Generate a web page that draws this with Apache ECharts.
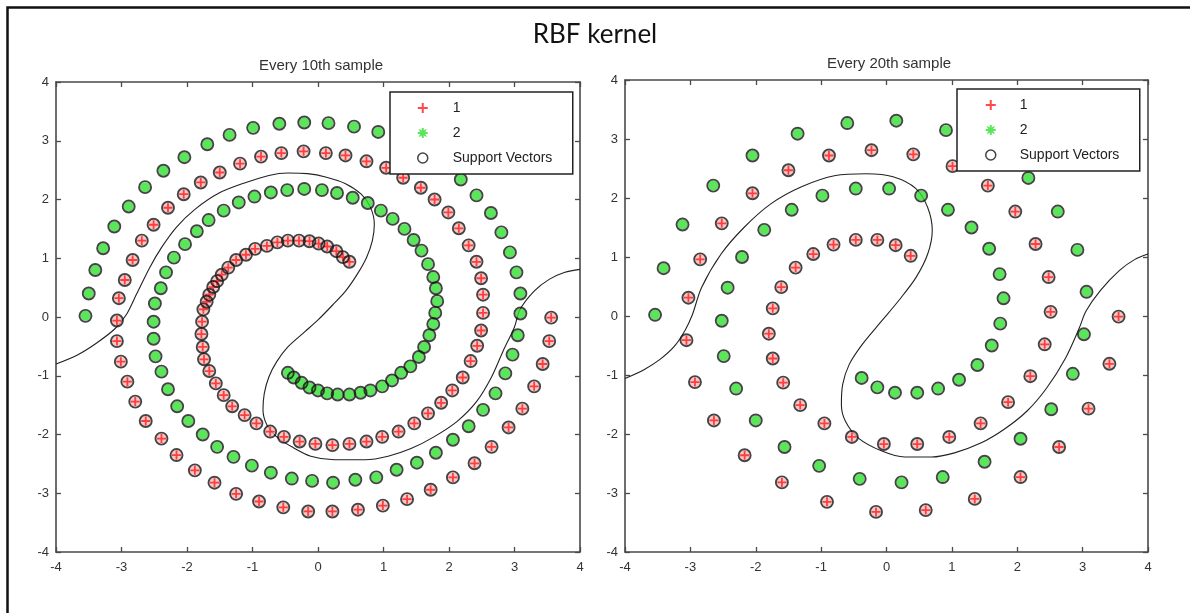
<!DOCTYPE html>
<html>
<head>
<meta charset="utf-8">
<script src="https://cdn.jsdelivr.net/npm/echarts@6/dist/echarts.min.js"></script>
<style>
html,body{margin:0;padding:0;background:#fff;}
#chart{width:1190px;height:613px;}
</style>
</head>
<body>
<div id="chart"></div>
<script>
// ---- axis ----
const axisMin = -4, axisMax = 4, tickStep = 1;
const titleText = 'RBF kernel';
const subTitles = ['Every 10th sample', 'Every 20th sample'];
const legendNames = ['1', '2', 'Support Vectors'];

// ---- left panel: every 10th sample ----
const redL = [
[0.48,0.94],[0.38,1.02],[0.28,1.12],[0.14,1.20],[0.01,1.25],[-0.13,1.29],[-0.29,1.30],[-0.46,1.30],[-0.62,1.27],[-0.78,1.21],[-0.96,1.16],[-1.10,1.06],[-1.25,0.97],[-1.37,0.84],[-1.47,0.72],[-1.54,0.61],[-1.60,0.51],[-1.66,0.38],[-1.70,0.26],[-1.75,0.13],
[-1.77,-0.08],[-1.78,-0.29],[-1.76,-0.51],[-1.74,-0.72],[-1.66,-0.92],[-1.56,-1.13],[-1.44,-1.33],[-1.31,-1.52],[-1.12,-1.67],[-0.94,-1.81],[-0.73,-1.95],[-0.52,-2.04],[-0.28,-2.12],[-0.04,-2.16],[0.22,-2.18],[0.48,-2.16],[0.74,-2.12],[0.98,-2.04],[1.23,-1.95],[1.47,-1.81],[1.68,-1.64],[1.88,-1.46],[2.05,-1.25],[2.21,-1.03],[2.33,-0.75],[2.43,-0.49],[2.49,-0.23],[2.52,0.07],
[2.52,0.38],[2.49,0.66],[2.42,0.94],[2.30,1.22],[2.15,1.51],[1.99,1.78],[1.78,2.00],[1.57,2.20],[1.30,2.37],[1.04,2.54],[0.74,2.65],[0.42,2.75],[0.12,2.79],[-0.22,2.82],[-0.56,2.79],[-0.87,2.73],[-1.19,2.61],[-1.50,2.46],[-1.79,2.29],[-2.05,2.09],[-2.29,1.86],[-2.51,1.57],[-2.69,1.30],[-2.83,0.97],[-2.95,0.63],[-3.04,0.32],
[-3.07,-0.06],[-3.07,-0.41],[-3.01,-0.76],[-2.91,-1.10],[-2.79,-1.44],[-2.63,-1.77],[-2.39,-2.07],[-2.16,-2.35],[-1.88,-2.61],[-1.58,-2.82],[-1.25,-3.01],[-0.90,-3.14],[-0.53,-3.24],[-0.15,-3.31],[0.22,-3.31],[0.61,-3.28],[0.99,-3.21],[1.36,-3.10],[1.72,-2.94],[2.06,-2.73],[2.39,-2.49],[2.65,-2.21],[2.91,-1.88],[3.12,-1.56],[3.30,-1.18],[3.43,-0.80],[3.53,-0.41],[3.56,-0.01]
];
const greenL = [
[-0.46,-0.95],[-0.37,-1.03],[-0.25,-1.12],[-0.13,-1.20],[0.00,-1.25],[0.14,-1.30],[0.30,-1.32],[0.48,-1.32],[0.65,-1.29],[0.80,-1.25],[0.98,-1.18],[1.13,-1.08],[1.27,-0.95],[1.41,-0.84],[1.54,-0.68],[1.62,-0.51],[1.70,-0.31],[1.76,-0.12],[1.79,0.07],
[1.82,0.27],[1.80,0.49],[1.76,0.68],[1.68,0.90],[1.58,1.13],[1.46,1.31],[1.32,1.50],[1.14,1.67],[0.96,1.81],[0.76,1.94],[0.53,2.03],[0.29,2.11],[0.06,2.16],[-0.21,2.18],[-0.47,2.16],[-0.72,2.12],[-0.97,2.05],[-1.21,1.95],[-1.44,1.81],[-1.67,1.65],[-1.85,1.46],[-2.03,1.24],[-2.20,1.01],[-2.32,0.76],[-2.40,0.49],[-2.49,0.23],
[-2.51,-0.08],[-2.51,-0.37],[-2.48,-0.67],[-2.39,-0.93],[-2.29,-1.23],[-2.15,-1.52],[-1.98,-1.77],[-1.76,-2.00],[-1.54,-2.21],[-1.29,-2.38],[-1.01,-2.53],[-0.72,-2.65],[-0.40,-2.75],[-0.09,-2.79],[0.23,-2.82],[0.57,-2.77],[0.89,-2.73],[1.20,-2.60],[1.51,-2.48],[1.80,-2.31],[2.06,-2.09],[2.30,-1.86],[2.52,-1.58],[2.71,-1.30],[2.86,-0.96],[2.97,-0.64],[3.05,-0.31],[3.09,0.06],
[3.09,0.40],[3.03,0.76],[2.93,1.10],[2.80,1.44],[2.64,1.77],[2.42,2.07],[2.18,2.34],[1.90,2.60],[1.60,2.83],[1.27,3.02],[0.92,3.15],[0.55,3.24],[0.16,3.30],[-0.21,3.31],[-0.59,3.29],[-0.99,3.22],[-1.35,3.10],[-1.69,2.94],[-2.04,2.72],[-2.36,2.49],[-2.64,2.21],[-2.89,1.88],[-3.11,1.54],[-3.28,1.17],[-3.40,0.80],[-3.50,0.40],[-3.55,0.02]
];
const boundaryL = [
[-4.0,-0.80],[-3.68,-0.65],[-3.39,-0.45],[-3.10,-0.20],[-2.92,0.05],[-2.77,0.39],[-2.57,0.84],[-2.39,1.18],[-2.16,1.53],[-1.87,1.84],[-1.51,2.11],[-1.10,2.29],[-0.75,2.41],[-0.46,2.45],[-0.16,2.44],[0.13,2.38],[0.42,2.27],[0.66,2.09],[0.80,1.87],[0.86,1.58],[0.83,1.30],[0.74,1.01],[0.60,0.73],[0.42,0.44],[0.22,0.20],[0.00,-0.05],[-0.20,-0.25],[-0.46,-0.51],[-0.63,-0.76],[-0.75,-1.02],[-0.82,-1.30],[-0.84,-1.58],[-0.78,-1.84],[-0.63,-2.04],[-0.40,-2.21],[-0.11,-2.37],[0.25,-2.43],[0.72,-2.43],[1.07,-2.37],[1.42,-2.24],[1.77,-2.04],[2.12,-1.78],[2.42,-1.44],[2.65,-1.02],[2.83,-0.57],[3.00,-0.17],[3.08,0.12],[3.30,0.44],[3.53,0.64],[3.77,0.76],[4.0,0.81]
];

// ---- right panel: every 20th sample ----
const redR = [
[0.37,1.02],[0.14,1.20],[-0.14,1.29],[-0.47,1.29],[-0.81,1.21],[-1.12,1.05],[-1.39,0.82],[-1.61,0.49],[-1.74,0.13],
[-1.80,-0.30],[-1.74,-0.72],[-1.58,-1.13],[-1.32,-1.51],[-0.95,-1.82],[-0.53,-2.05],[-0.04,-2.17],[0.47,-2.17],[0.96,-2.05],[1.44,-1.82],[1.86,-1.46],[2.20,-1.02],[2.42,-0.48],[2.51,0.07],
[2.48,0.66],[2.28,1.22],[1.97,1.77],[1.55,2.21],[1.01,2.54],[0.41,2.74],[-0.23,2.81],[-0.88,2.72],[-1.50,2.47],[-2.05,2.08],[-2.52,1.57],[-2.85,0.96],[-3.03,0.31],
[-3.06,-0.41],[-2.93,-1.12],[-2.64,-1.77],[-2.17,-2.36],[-1.60,-2.82],[-0.91,-3.15],[-0.16,-3.32],[0.60,-3.29],[1.35,-3.10],[2.05,-2.73],[2.64,-2.22],[3.09,-1.57],[3.41,-0.81],[3.55,-0.01]
];
const greenR = [
[-0.38,-1.05],[-0.14,-1.21],[0.13,-1.30],[0.47,-1.30],[0.79,-1.23],[1.11,-1.08],[1.39,-0.83],[1.61,-0.50],[1.74,-0.13],
[1.79,0.30],[1.73,0.71],[1.57,1.14],[1.30,1.50],[0.94,1.80],[0.53,2.04],[0.04,2.16],[-0.47,2.16],[-0.98,2.04],[-1.45,1.80],[-1.87,1.46],[-2.21,1.00],[-2.43,0.48],
[-2.52,-0.08],[-2.49,-0.68],[-2.30,-1.23],[-2.00,-1.77],[-1.56,-2.22],[-1.03,-2.54],[-0.41,-2.76],[0.23,-2.82],[0.86,-2.73],[1.50,-2.47],[2.05,-2.08],[2.52,-1.58],[2.85,-0.98],[3.02,-0.31],
[3.06,0.41],[2.92,1.12],[2.62,1.77],[2.17,2.34],[1.60,2.85],[0.91,3.15],[0.15,3.31],[-0.60,3.27],[-1.36,3.09],[-2.05,2.72],[-2.65,2.21],[-3.12,1.55],[-3.41,0.81],[-3.54,0.02]
];
const boundaryR = [
[-4.0,-1.06],[-3.71,-0.91],[-3.47,-0.74],[-3.25,-0.52],[-3.08,-0.24],[-2.97,0.02],[-2.83,0.48],[-2.53,1.05],[-2.18,1.50],[-1.77,1.90],[-1.30,2.19],[-0.78,2.38],[-0.31,2.41],[0.10,2.36],[0.45,2.16],[0.63,1.84],[0.70,1.45],[0.63,1.05],[0.45,0.65],[0.20,0.28],[-0.07,-0.08],[-0.37,-0.48],[-0.57,-0.82],[-0.67,-1.16],[-0.69,-1.50],[-0.63,-1.78],[-0.43,-2.07],[-0.07,-2.29],[0.28,-2.39],[0.69,-2.39],[1.04,-2.32],[1.45,-2.15],[1.80,-1.92],[2.15,-1.61],[2.45,-1.22],[2.74,-0.71],[2.95,-0.20],[3.05,0.08],[3.27,0.43],[3.56,0.77],[3.80,0.96],[4.0,1.05]
];

// ---- styles ----
const RED = '#ff1a1a', PINK = '#f6b9b9', GREEN = '#2fe02f', DARK = '#151515';
const plusPath = 'path://M4,0H6V4H10V6H6V10H4V6H0V4H4Z';
const starPath = 'path://M4,0H6V2.6L8.5,1L9,1.5L7.4,4H10V6H7.4L9,8.5L8.5,9L6,7.4V10H4V7.4L1.5,9L1,8.5L2.6,6H0V4H2.6L1,1.5L1.5,1L4,2.6Z';
const FONT = 'Liberation Sans';

function axisCommon(gridIndex, position, showLabel) {
  return {
    gridIndex: gridIndex, type: 'value', position: position,
    min: axisMin, max: axisMax, interval: tickStep,
    axisLine: {show: true, onZero: false, lineStyle: {color: '#4a4a4a', width: 1.6}},
    axisTick: {show: true, inside: true, length: 5, lineStyle: {color: '#4a4a4a', width: 1.3}},
    axisLabel: {show: showLabel, fontFamily: FONT, fontSize: 13, color: '#333', margin: (position === 'bottom' ? 9 : 7)},
    splitLine: {show: false}
  };
}

function panelSeries(idx, red, green, boundary) {
  const ax = {xAxisIndex: idx * 2, yAxisIndex: idx * 2};
  return [
    Object.assign({name: 'boundary', type: 'line', data: boundary,
     showSymbol: false, smooth: 0.3, lineStyle: {color: '#222', width: 1.1}, silent: true, z: 2}, ax),
    Object.assign({name: 'fill1', type: 'scatter', data: red, silent: true,
     symbol: 'circle', symbolSize: 10, itemStyle: {color: PINK}, z: 3}, ax),
    Object.assign({name: legendNames[0], type: 'scatter', data: red,
     symbol: plusPath, symbolSize: 9, itemStyle: {color: RED}, z: 3}, ax),
    Object.assign({name: legendNames[1], type: 'scatter', data: green,
     symbol: 'circle', symbolSize: 10, itemStyle: {color: GREEN}, z: 3}, ax),
    Object.assign({name: legendNames[2], type: 'scatter', data: red.concat(green),
     symbol: 'circle', symbolSize: 12, itemStyle: {color: 'rgba(0,0,0,0)', borderColor: DARK, borderWidth: 1.9}, z: 4}, ax)
  ];
}

function legendAt(left, top, padLeft, textPad) {
  return {
    left: left, top: top, orient: 'vertical', selectedMode: false,
    padding: [9, 10, 9, padLeft], itemGap: 11, itemWidth: 10, itemHeight: 10,
    backgroundColor: '#fff', borderColor: '#222', borderWidth: 1.5, z: 10,
    textStyle: {fontFamily: FONT, fontSize: 14, color: '#222', lineHeight: 14, padding: [0, 0, 0, textPad], width: 110},
    data: [
      {name: legendNames[0], icon: plusPath, itemStyle: {color: RED}},
      {name: legendNames[1], icon: starPath, itemStyle: {color: GREEN}},
      {name: legendNames[2], icon: 'circle', itemStyle: {color: 'rgba(0,0,0,0)', borderColor: DARK, borderWidth: 1.5}}
    ]
  };
}

const chart = echarts.init(document.getElementById('chart'), null, {renderer: 'canvas'});
chart.setOption({
  animation: false,
  backgroundColor: '#fff',
  title: [
    {text: titleText, left: 'center', top: 17, textStyle: {fontFamily: 'Lato', fontSize: 26, fontWeight: 'normal', color: '#111'}},
    {text: subTitles[0], left: 316, top: 53, textAlign: 'center', textStyle: {fontFamily: FONT, fontSize: 15, fontWeight: 'normal', color: '#333'}},
    {text: subTitles[1], left: 884, top: 51, textAlign: 'center', textStyle: {fontFamily: FONT, fontSize: 15, fontWeight: 'normal', color: '#333'}}
  ],
  grid: [
    {left: 56, top: 82, width: 524, height: 470},
    {left: 625, top: 80, width: 523, height: 472}
  ],
  xAxis: [axisCommon(0, 'bottom', true), axisCommon(0, 'top', false), axisCommon(1, 'bottom', true), axisCommon(1, 'top', false)],
  yAxis: [axisCommon(0, 'left', true), axisCommon(0, 'right', false), axisCommon(1, 'left', true), axisCommon(1, 'right', false)],
  legend: [legendAt(390, 92, 27, 20), legendAt(957, 89, 28, 19)],
  series: panelSeries(0, redL, greenL, boundaryL).concat(panelSeries(1, redR, greenR, boundaryR)),
  graphic: [
    {type: 'polyline', silent: true, z: 100,
     shape: {points: [[7.5, 614], [7.5, 7.5], [1191, 7.5]]},
     style: {stroke: '#111', lineWidth: 2.5, fill: null}}
  ]
});
</script>
</body>
</html>
